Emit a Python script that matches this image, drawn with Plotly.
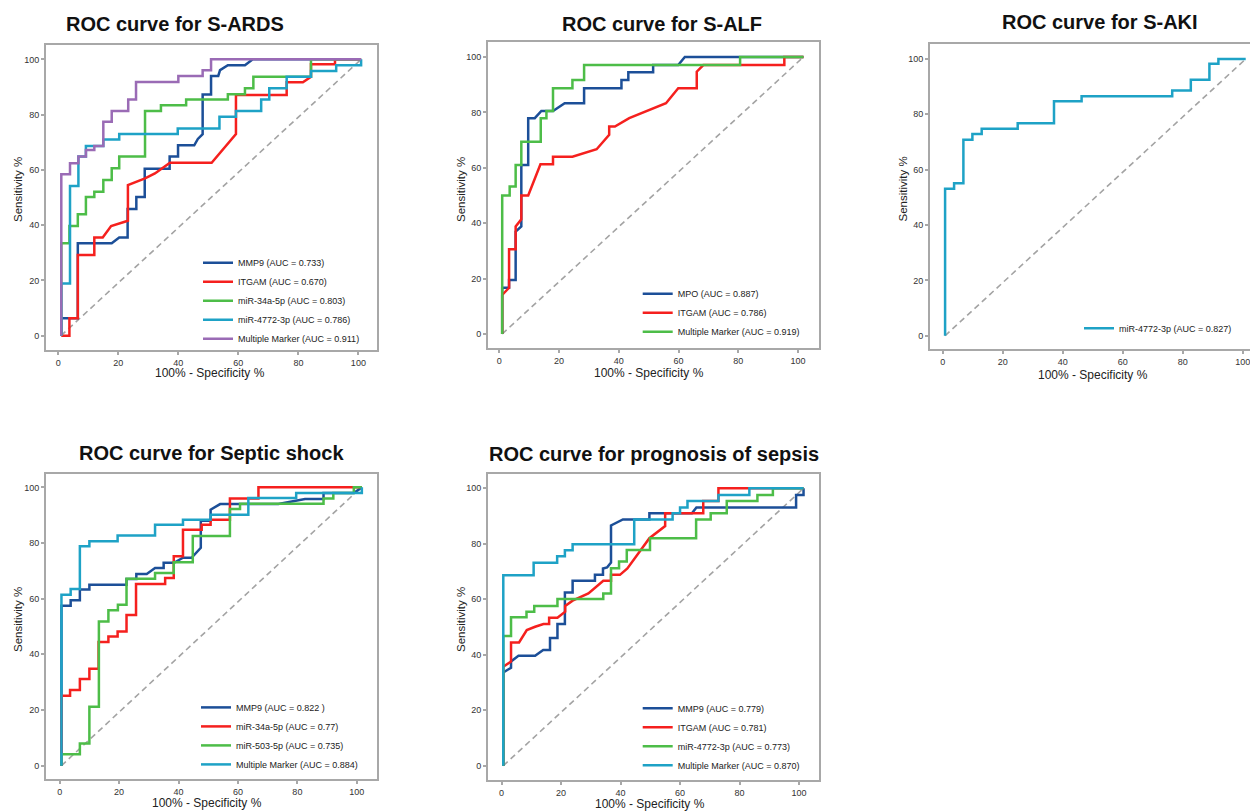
import plotly.graph_objects as go

W, H = 1250, 811

# ---------------- Panel 1: ROC curve for S-ARDS ----------------
ards_mmp9_x = [1, 1, 6.5, 6.5, 17.8, 20.3, 23.1, 23.1, 26, 26, 28.8, 28.8, 37.1, 37.1, 39.9, 39.9, 45.3, 46.5, 48.1, 48.1, 50.9, 50.9, 53.3, 53.9, 56.5, 62.2, 64.8, 100.9]
ards_mmp9_y = [0, 6.3, 6.3, 33.4, 33.4, 35.5, 35.5, 45.8, 45.8, 50.2, 50.2, 60.4, 60.4, 64.8, 64.8, 68.9, 68.9, 71.2, 72.9, 87.3, 87.3, 94, 94, 96.1, 97.9, 97.9, 100, 100]
ards_itgam_x = [1, 3.7, 3.7, 6.5, 6.5, 12, 12, 14.8, 17.6, 23.2, 23.2, 28.9, 32.2, 37.2, 51.1, 59.2, 59.2, 76.1, 76.1, 81.5, 84.2, 84.2, 92.2, 92.2, 100.9]
ards_itgam_y = [0, 0, 6.3, 6.3, 29.2, 29.2, 35.5, 35.5, 39.7, 41.6, 54.5, 56.9, 58.7, 62.6, 62.6, 73, 87.1, 87.1, 91.7, 91.7, 93.7, 98.2, 98.2, 100, 100]
ards_m34a_x = [1, 1, 3.7, 3.7, 6.5, 6.5, 9.2, 9.2, 12, 12, 15, 15, 17.8, 17.8, 20.3, 20.3, 28.9, 28.9, 34.2, 34.2, 42.6, 42.6, 56.5, 56.5, 62.2, 62.2, 65, 65, 84.2, 84.2, 100.9]
ards_m34a_y = [0, 33.4, 33.4, 39.7, 39.7, 43.9, 43.9, 50.2, 50.2, 52.1, 52.1, 56.3, 56.3, 60.6, 60.6, 64.8, 64.8, 81.3, 81.3, 83.4, 83.4, 85.5, 85.5, 87.4, 87.4, 89.5, 89.5, 93.7, 93.7, 100, 100]
ards_m4772_x = [1, 1, 3.9, 3.9, 6.7, 6.7, 9.2, 9.2, 15, 15, 20.3, 20.3, 39.8, 39.8, 53.7, 53.7, 59.2, 59.2, 67.6, 67.6, 70.3, 70.3, 76.1, 76.1, 84.2, 84.2, 92.6, 92.6, 100.9, 100.9]
ards_m4772_y = [0, 18.9, 18.9, 54.2, 54.2, 64.8, 64.8, 68.6, 68.6, 71, 71, 73, 73, 75, 75, 79.2, 79.2, 81.3, 81.3, 85.5, 85.5, 89.5, 89.5, 93.7, 93.7, 95.8, 95.8, 97.9, 97.9, 100]
ards_multi_x = [1, 1, 3.9, 3.9, 6.7, 6.7, 9.2, 9.2, 12, 12, 15, 15, 17.8, 17.8, 23.3, 23.3, 25.9, 25.9, 40, 40, 48.1, 48.1, 50.9, 50.9, 100.9]
ards_multi_y = [0, 58.4, 58.4, 62.4, 62.4, 64.8, 64.8, 67.2, 67.2, 68.6, 68.6, 77.4, 77.4, 81.3, 81.3, 85.5, 85.5, 91.8, 91.8, 94, 94, 96.1, 96.1, 100, 100]
ards_diag_x = [0.9, 100.9]
ards_diag_y = [0, 100]
ards_labels = ["MMP9 (AUC = 0.733)", "ITGAM (AUC = 0.670)", "miR-34a-5p (AUC = 0.803)",
               "miR-4772-3p (AUC = 0.786)", "Multiple Marker (AUC = 0.911)"]

# ---------------- Panel 2: ROC curve for S-ALF ----------------
alf_mpo_x = [1, 1, 3.3, 3.3, 5.5, 5.5, 7.4, 7.4, 9.7, 9.7, 11.9, 14.1, 18, 21.9, 28.4, 28.4, 40.9, 40.9, 43.2, 43.2, 51.5, 51.5, 59.9, 62.1, 101.8]
alf_mpo_y = [0, 16.7, 16.7, 19.5, 19.5, 37, 38.8, 61, 61, 77.9, 77.9, 80.5, 80.5, 83.3, 83.3, 88.7, 88.7, 91.7, 91.7, 94.5, 94.5, 97.1, 97.1, 100, 100]
alf_itgam_x = [1, 1, 3.3, 3.3, 5.5, 5.5, 7.4, 7.4, 9.7, 13.8, 18, 18, 24.5, 32.6, 36.8, 36.8, 38.7, 43.5, 55.8, 59.9, 66.1, 66.1, 68.3, 95.4, 95.4, 101.8]
alf_itgam_y = [0, 14.1, 16.7, 30.6, 30.6, 38.8, 41.4, 50, 50, 61.3, 61.3, 64, 64, 66.7, 71.9, 74.9, 74.9, 77.9, 83.3, 88.7, 88.7, 94.7, 97.1, 97.1, 100, 100]
alf_multi_x = [1, 1, 3.5, 3.5, 5.5, 5.5, 7.4, 7.4, 13.9, 13.9, 15.8, 15.8, 18, 18, 24.5, 24.5, 28.4, 28.4, 80.6, 80.6, 101.8]
alf_multi_y = [0, 50, 50, 53.2, 53.2, 61, 61, 69.4, 69.4, 77.9, 77.9, 80.5, 80.5, 88.7, 88.7, 91.7, 91.7, 97.1, 97.1, 100, 100]
alf_diag_x = [1, 101.8]
alf_diag_y = [0, 100]
alf_labels = ["MPO (AUC = 0.887)", "ITGAM (AUC = 0.786)", "Multiple Marker (AUC = 0.919)"]

# ---------------- Panel 3: ROC curve for S-AKI ----------------
aki_m4772_x = [0.8, 0.8, 3.8, 3.8, 6.9, 6.9, 9.9, 9.9, 13, 13, 25, 25, 37.1, 37.1, 46.3, 46.3, 76.5, 76.5, 82.7, 82.7, 88.9, 88.9, 91.9, 91.9, 101]
aki_m4772_y = [0, 53.1, 53.1, 55.1, 55.1, 70.8, 70.8, 72.9, 72.9, 74.8, 74.8, 76.8, 76.8, 84.7, 84.7, 86.5, 86.5, 88.6, 88.6, 92.5, 92.5, 98.3, 98.3, 100, 100]
aki_diag_x = [0.8, 101]
aki_diag_y = [0, 100]
aki_labels = ["miR-4772-3p (AUC = 0.827)"]

# ---------------- Panel 4: ROC curve for Septic shock ----------------
shock_mmp9_x = [0.6, 0.6, 3.7, 3.7, 6.8, 6.8, 10, 10, 22.5, 22.5, 25.8, 25.8, 29.3, 32.1, 35, 35, 38.5, 41.5, 44.4, 47.5, 47.5, 50.8, 50.8, 54, 73.6, 82.6, 88.8, 88.8, 99, 101.7]
shock_mmp9_y = [0, 57.5, 57.5, 59.4, 59.4, 63.3, 63.3, 65, 65, 67.1, 67.1, 68.9, 68.9, 71, 71, 72.9, 72.9, 74.7, 74.7, 78.3, 88, 88, 92, 94, 94, 95.8, 95.8, 98, 98, 100]
shock_m34a_x = [0.6, 0.6, 3.5, 3.5, 6.8, 6.8, 10, 10, 13.1, 13.1, 16.4, 16.4, 19.5, 19.5, 22.5, 22.5, 25.7, 25.7, 35.5, 35.5, 38.4, 38.4, 41.5, 41.5, 47.8, 47.8, 50.8, 50.8, 57.3, 57.3, 66.9, 66.9, 101.7]
shock_m34a_y = [0, 25.1, 25.1, 27.2, 27.2, 31.1, 31.1, 34.8, 34.8, 44.4, 44.4, 46.4, 46.4, 48.2, 48.2, 54.1, 54.1, 65.3, 65.3, 67.4, 67.4, 75.2, 75.2, 84.8, 84.8, 86.6, 86.6, 88.4, 88.4, 96, 96, 100, 100]
shock_m503_x = [0.6, 0.6, 6.8, 6.8, 10, 10, 13.2, 13.2, 16.4, 16.4, 19.6, 19.6, 22.5, 22.5, 32.1, 32.1, 38.4, 38.4, 44.8, 44.8, 57.3, 57.3, 60.7, 60.7, 88.8, 88.8, 92.1, 92.1, 99, 99, 101.7]
shock_m503_y = [0, 4.1, 4.1, 8, 8, 21.2, 21.2, 51.8, 51.8, 55.8, 55.8, 57.8, 57.8, 67.2, 67.2, 69.2, 69.2, 73.1, 73.1, 82.5, 82.5, 92.2, 92.2, 94.1, 94.1, 96, 96, 98, 98, 100, 100]
shock_multi_x = [0.6, 0.6, 3.7, 3.7, 6.8, 6.8, 10, 10, 19.5, 19.5, 32.1, 32.1, 41.5, 41.5, 50.8, 50.8, 63.5, 63.5, 79.6, 79.6, 101.7, 101.7]
shock_multi_y = [0, 61.4, 61.4, 63.5, 63.5, 78.8, 78.8, 80.6, 80.6, 82.7, 82.7, 86.6, 86.6, 88.4, 88.4, 90.2, 90.2, 96.2, 96.2, 98, 98, 100]
shock_diag_x = [0.6, 101.5]
shock_diag_y = [0, 100]
shock_labels = ["MMP9 (AUC = 0.822 )", "miR-34a-5p (AUC = 0.77)", "miR-503-5p (AUC = 0.735)",
                "Multiple Marker (AUC = 0.884)"]

# ---------------- Panel 5: ROC curve for prognosis of sepsis ----------------
prog_mmp9_x = [0.6, 0.6, 3.2, 3.2, 5.7, 11.3, 14, 16.3, 16.3, 18.8, 18.8, 21.3, 21.3, 23.9, 23.9, 31.4, 31.4, 34.1, 34.1, 35.5, 36.8, 36.8, 40.8, 49.7, 49.7, 64, 65.5, 99, 99, 101.5, 101.5]
prog_mmp9_y = [0, 33.6, 35.3, 37.6, 39.6, 39.6, 41.7, 41.7, 46, 46, 51.1, 51.1, 62.4, 62.4, 66.7, 66.7, 68.8, 68.8, 71.1, 71.5, 73.2, 86.6, 88.8, 88.8, 91, 91, 93.1, 93.1, 97.6, 97.6, 100]
prog_itgam_x = [0.6, 0.6, 3.2, 3.2, 5.9, 8.5, 11.3, 14.1, 16, 16, 18.8, 21.4, 21.4, 23.9, 29.2, 34.2, 36.8, 36.8, 39.8, 42.3, 49.7, 55, 55, 67.8, 67.8, 72.9, 72.9, 101.5]
prog_itgam_y = [0, 35.7, 37.5, 44.4, 44.4, 48.9, 50.1, 51.1, 51.1, 53.3, 53.3, 55.5, 57.6, 59.5, 62.1, 66.7, 66.7, 68.8, 68.8, 71.1, 82, 86.4, 91, 91, 95.4, 95.4, 100, 100]
prog_m4772_x = [0.6, 0.6, 3.2, 3.2, 8.4, 8.4, 11, 11, 18.8, 18.8, 34.2, 34.2, 36.8, 36.8, 39.5, 39.5, 42.1, 42.1, 49.9, 49.9, 65.4, 65.4, 70.3, 70.3, 75.7, 75.7, 86, 86, 91.2, 91.2, 101.5]
prog_m4772_y = [0, 46.8, 46.8, 53.5, 53.5, 55.5, 55.5, 57.6, 57.6, 60.1, 60.1, 62.1, 62.1, 71.2, 71.2, 73.6, 73.6, 77.8, 77.8, 82, 82, 88.8, 88.8, 91, 91, 95.4, 95.4, 97.6, 97.6, 100, 100]
prog_multi_x = [0.6, 0.6, 10.8, 10.8, 18.7, 18.7, 21.3, 21.3, 23.9, 23.9, 44.6, 44.6, 57.5, 57.5, 60, 60, 62.5, 62.5, 72.9, 72.9, 83.3, 83.3, 101.5]
prog_multi_y = [0, 68.7, 68.7, 73.2, 73.2, 75.5, 75.5, 77.7, 77.7, 79.8, 79.8, 88.8, 88.8, 91, 91, 93.1, 93.1, 95.4, 95.4, 97.6, 97.6, 100, 100]
prog_diag_x = [0.6, 101.5]
prog_diag_y = [0, 100]
prog_labels = ["MMP9 (AUC = 0.779)", "ITGAM (AUC = 0.781)", "miR-4772-3p (AUC = 0.773)",
               "Multiple Marker (AUC = 0.870)"]

titles = ["ROC curve for S-ARDS", "ROC curve for S-ALF", "ROC curve for S-AKI",
          "ROC curve for Septic shock", "ROC curve for prognosis of sepsis"]
x_title = "100% - Specificity %"
y_title = "Sensitivity %"
tick_values = [0, 20, 40, 60, 80, 100]

BLUE = "#1c4f98"
RED = "#f5201e"
GREEN = "#4dbd48"
CYAN = "#1ea2c6"
PURPLE = "#9a6bb5"
FRAME = "#a8a8a8"
FONT = "Liberation Sans, Arial, sans-serif"

panels = [
    dict(series=[(ards_mmp9_x, ards_mmp9_y, BLUE), (ards_itgam_x, ards_itgam_y, RED),
                 (ards_m34a_x, ards_m34a_y, GREEN), (ards_m4772_x, ards_m4772_y, CYAN),
                 (ards_multi_x, ards_multi_y, PURPLE)],
         labels=ards_labels, diag=(ards_diag_x, ards_diag_y),
         box=(46, 377, 45, 350), xr=(-4.1, 106.2), yr=(-5.2, 105.2),
         title_xy=(175, 23.5), xt_xy=(210, 373), yt_xy=(18, 190),
         leg=(238, 300.8), right_line=True),
    dict(series=[(alf_mpo_x, alf_mpo_y, BLUE), (alf_itgam_x, alf_itgam_y, RED),
                 (alf_multi_x, alf_multi_y, GREEN)],
         labels=alf_labels, diag=(alf_diag_x, alf_diag_y),
         box=(488, 819, 42, 348), xr=(-3.75, 107.0), yr=(-5.05, 105.4),
         title_xy=(661.7, 24), xt_xy=(649.5, 373), yt_xy=(461, 190),
         leg=(677.7, 312.8), right_line=True),
    dict(series=[(aki_m4772_x, aki_m4772_y, CYAN)],
         labels=aki_labels, diag=(aki_diag_x, aki_diag_y),
         box=(930, 1250, 44, 349), xr=(-4.23, 102.43), yr=(-4.8, 105.4),
         title_xy=(1100, 22.5), xt_xy=(1093, 375), yt_xy=(902.5, 189),
         leg=(1119, 328.3), right_line=False),
    dict(series=[(shock_mmp9_x, shock_mmp9_y, BLUE), (shock_m34a_x, shock_m34a_y, RED),
                 (shock_m503_x, shock_m503_y, GREEN), (shock_multi_x, shock_multi_y, CYAN)],
         labels=shock_labels, diag=(shock_diag_x, shock_diag_y),
         box=(46, 377, 474, 779), xr=(-4.6, 106.8), yr=(-4.8, 104.8),
         title_xy=(211.7, 453), xt_xy=(207.3, 802.5), yt_xy=(18, 620),
         leg=(236, 735.9), right_line=True),
    dict(series=[(prog_mmp9_x, prog_mmp9_y, BLUE), (prog_itgam_x, prog_itgam_y, RED),
                 (prog_m4772_x, prog_m4772_y, GREEN), (prog_multi_x, prog_multi_y, CYAN)],
         labels=prog_labels, diag=(prog_diag_x, prog_diag_y),
         box=(488, 819, 474, 780), xr=(-4.54, 106.7), yr=(-5.16, 105.16),
         title_xy=(654, 454), xt_xy=(650, 804), yt_xy=(461, 620),
         leg=(677.7, 736.7), right_line=True),
]

fig = go.Figure()
layout = dict(width=W, height=H, autosize=False, margin=dict(l=0, r=0, t=0, b=0),
              paper_bgcolor="white", plot_bgcolor="white",
              font=dict(family=FONT, color="#222"), annotations=[])

for i, p in enumerate(panels, start=1):
    sfx = "" if i == 1 else str(i)
    xa, ya, lg = "x" + sfx, "y" + sfx, "legend" + sfx
    dx, dy = p["diag"]
    fig.add_trace(go.Scatter(x=dx, y=dy, mode="lines", xaxis=xa, yaxis=ya, showlegend=False,
                             hoverinfo="skip",
                             line=dict(color="#a3a3a3", width=1.6, dash="6px,4px")))
    for (sx, sy, col), lab in zip(p["series"], p["labels"]):
        fig.add_trace(go.Scatter(x=sx, y=sy, mode="lines", name=lab, xaxis=xa, yaxis=ya,
                                 legend=lg, line=dict(color=col, width=2.5)))
    x0, x1, top, bot = p["box"]
    axis_common = dict(showline=True, linecolor=FRAME, linewidth=2,
                       ticks="outside", ticklen=3, tickwidth=1.5, tickcolor=FRAME,
                       tickvals=tick_values, showgrid=False, zeroline=False,
                       ticklabeloverflow="allow",
                       tickfont=dict(size=9, color="#333", family=FONT), fixedrange=True)
    layout["xaxis" + sfx] = dict(domain=[x0 / W, min(x1 / W, 1.0)], range=list(p["xr"]),
                                 anchor=ya, mirror=True, **axis_common)
    layout["yaxis" + sfx] = dict(domain=[1 - bot / H, 1 - top / H], range=list(p["yr"]),
                                 anchor=xa, mirror=p["right_line"], **axis_common)
    lx, ly = p["leg"]
    layout[lg] = dict(x=(lx - 40) / W, y=1 - ly / H, xanchor="left", yanchor="middle",
                      bgcolor="rgba(0,0,0,0)", borderwidth=0, tracegroupgap=0,
                      font=dict(size=9, color="#222", family=FONT))
    tx, ty = p["title_xy"]
    layout["annotations"].append(dict(text=titles[i - 1], x=tx / W, y=1 - ty / H,
                                      xref="paper", yref="paper", showarrow=False,
                                      xanchor="center", yanchor="middle",
                                      font=dict(size=20, color="#111", family=FONT, weight="bold")))
    ax_, ay_ = p["xt_xy"]
    layout["annotations"].append(dict(text=x_title, x=ax_ / W, y=1 - ay_ / H,
                                      xref="paper", yref="paper", showarrow=False,
                                      xanchor="center", yanchor="middle",
                                      font=dict(size=12, color="#222", family=FONT)))
    bx, by = p["yt_xy"]
    layout["annotations"].append(dict(text=y_title, x=bx / W, y=1 - by / H, textangle=-90,
                                      xref="paper", yref="paper", showarrow=False,
                                      xanchor="center", yanchor="middle",
                                      font=dict(size=11.5, color="#222", family=FONT)))

fig.update_layout(**layout)
fig.write_html("out.html", config={"displayModeBar": False})
